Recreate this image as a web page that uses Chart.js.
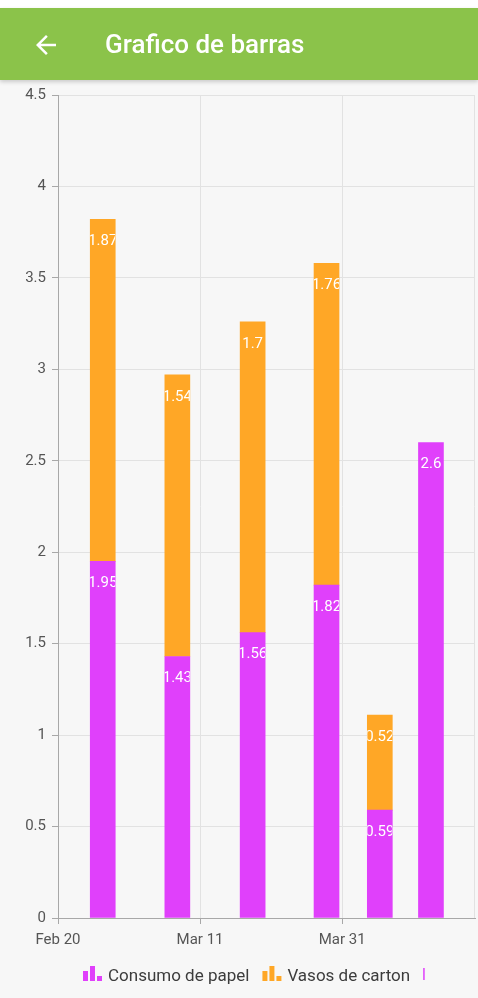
<!DOCTYPE html>
<html>
<head>
<meta charset="utf-8">
<title>Grafico de barras</title>
<script src="https://cdn.jsdelivr.net/npm/chart.js@4.4.1/dist/chart.umd.min.js"></script>
<style>
  body { margin: 0; width: 478px; height: 998px; overflow: hidden; background: #f7f7f7; font-family: Roboto, sans-serif; }
  .status { height: 8px; background: #fff; }
  .appbar { position: relative; z-index: 2; height: 72px; background: #8bc34a; box-shadow: 0 2px 4px rgba(0,0,0,0.18); }
  .appbar svg { position: absolute; left: 31px; top: 22px; }
  .appbar h1 { position: absolute; left: 105px; top: 0; margin: 0; line-height: 72px; font-size: 26px; font-weight: 500; color: #fff; }
  .wrap { position: relative; width: 478px; height: 918px; }
</style>
</head>
<body>
<div class="status"></div>
<div class="appbar">
  <svg width="30" height="30" viewBox="0 0 24 24"><path fill="#fff" d="M20 11H7.83l5.59-5.59L12 4l-8 8 8 8 1.41-1.41L7.83 13H20v-2z"/></svg>
  <h1>Grafico de barras</h1>
</div>
<div class="wrap"><canvas id="chart"></canvas></div>
<script>
// days counted from Feb 20
const xDays = [6.3, 16.8, 27.4, 37.8, 45.3, 52.5]
const paper = [1.95, 1.43, 1.56, 1.82, 0.59, 2.6]
const cups = [1.87, 1.54, 1.7, 1.76, 0.52, null]
const xTickDays = [0, 20, 40]
const xTickLabels = ["Feb 20", "Mar 11", "Mar 31"]
const yTicks = [0, 0.5, 1, 1.5, 2, 2.5, 3, 3.5, 4, 4.5]
const legendNames = ["Consumo de papel", "Vasos de carton"]

const PURPLE = "#e040fb"
const ORANGE = "#ffa726"

// white value labels near the top of each segment, clipped to the bar
const valueLabels = {
  id: "valueLabels",
  beforeDatasetsDraw(chart) {
    // thin right border of the plot
    const {ctx, chartArea} = chart
    ctx.save()
    ctx.strokeStyle = "#e2e2e2"
    ctx.lineWidth = 1
    ctx.beginPath()
    ctx.moveTo(chartArea.right - 0.5, chartArea.top)
    ctx.lineTo(chartArea.right - 0.5, chartArea.bottom)
    ctx.stroke()
    ctx.restore()
  },
  afterDatasetsDraw(chart) {
    const ctx = chart.ctx
    chart.data.datasets.forEach((ds, i) => {
      const meta = chart.getDatasetMeta(i)
      meta.data.forEach((bar, j) => {
        const v = ds.data[j] && ds.data[j].y
        if (v == null) return
        const p = bar.getProps(["x", "y", "base", "width"], true)
        ctx.save()
        ctx.beginPath()
        ctx.rect(p.x - p.width / 2, p.y, p.width, p.base - p.y)
        ctx.clip()
        ctx.font = "15px Roboto"
        ctx.fillStyle = "#fff"
        ctx.textAlign = "center"
        ctx.textBaseline = "middle"
        ctx.fillText(String(v), p.x, p.y + 22)
        ctx.restore()
      })
    })
  }
}

// legend with the little bar-chart glyphs, under the x axis
const barLegend = {
  id: "barLegend",
  afterDraw(chart) {
    const ctx = chart.ctx
    const base = chart.chartArea.bottom + 63
    const colors = chart.data.datasets.map(d => d.backgroundColor)
    let x = chart.chartArea.left + 25
    ctx.save()
    ctx.font = "17px Roboto"
    ctx.textBaseline = "alphabetic"
    legendNames.forEach((name, i) => {
      ctx.fillStyle = colors[i]
      ctx.fillRect(x, base - 10, 5, 10)
      ctx.fillRect(x + 7, base - 15, 5, 15)
      ctx.fillRect(x + 14, base - 5, 5, 5)
      ctx.fillStyle = "#3c3c3c"
      ctx.fillText(name, x + 25, base)
      x += 25 + ctx.measureText(name).width + 13
    })
    ctx.fillStyle = colors[0]
    ctx.fillRect(x, base - 13, 1.5, 12)
    ctx.restore()
  }
}

new Chart(document.getElementById("chart"), {
  type: "bar",
  data: {
    datasets: [
      {
        label: legendNames[0],
        data: xDays.map((x, i) => ({x, y: paper[i]})),
        backgroundColor: PURPLE,
        barThickness: 25
      },
      {
        label: legendNames[1],
        data: xDays.map((x, i) => ({x, y: cups[i]})),
        backgroundColor: ORANGE,
        barThickness: 25
      }
    ]
  },
  options: {
    responsive: true,
    maintainAspectRatio: false,
    animation: false,
    layout: { padding: { top: 14, right: 3, left: 0, bottom: 44 } },
    plugins: {
      tooltip: { enabled: false },
      legend: { display: false }
    },
    scales: {
      x: {
        type: "linear",
        stacked: true,
        offset: false,
        min: 0,
        max: 58.7,
        afterBuildTicks(scale) { scale.ticks = xTickDays.map(v => ({value: v})) },
        afterFit(scale) { scale.height = 36 },
        ticks: {
          autoSkip: false,
          maxRotation: 0,
          color: "#555",
          font: { family: "Roboto", size: 15 },
          padding: 7,
          callback: (v) => xTickLabels[xTickDays.indexOf(v)]
        },
        grid: { offset: false, color: "#e2e2e2", tickColor: "#a8a8a8", tickLength: 6 },
        border: { color: "#a8a8a8" }
      },
      y: {
        stacked: true,
        min: 0,
        max: 4.5,
        afterBuildTicks(scale) { scale.ticks = yTicks.map(v => ({value: v})) },
        afterFit(scale) { scale.width = 58 },
        ticks: {
          color: "#555",
          font: { family: "Roboto", size: 15 },
          padding: 6,
          callback: (v) => String(v)
        },
        grid: { color: "#e2e2e2", tickColor: "#a8a8a8", tickLength: 6 },
        border: { color: "#a8a8a8" }
      }
    }
  },
  plugins: [valueLabels, barLegend]
})
</script>
</body>
</html>
